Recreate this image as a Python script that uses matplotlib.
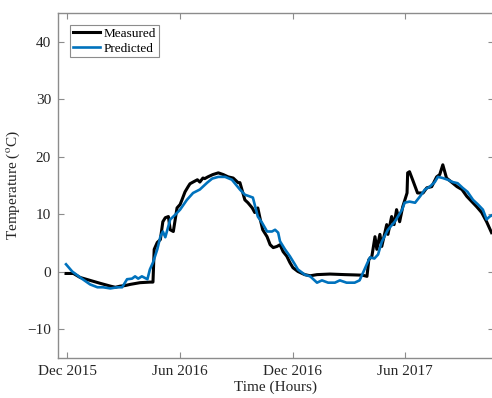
import numpy as np
import matplotlib.pyplot as plt

plt.rcParams['font.family'] = ['Liberation Serif', 'DejaVu Serif']
plt.rcParams['mathtext.fontset'] = 'stix'

# time axis: days counted from 1 Dec 2015
start = np.datetime64('2015-12-01')

meas_days = [-2, 10, 21, 37, 53, 70, 78, 86, 94, 102, 118, 134, 139, 141, 146, 151, 155, 159,
             164, 167, 172, 178, 183, 186, 191, 196, 199, 204, 211, 215, 220, 223, 228, 236,
             245, 253, 261, 269, 277, 280, 288, 293, 300, 304, 309, 313, 317, 324, 329, 334,
             340, 345, 350, 356, 361, 366, 374, 385, 394, 405, 426, 450, 466, 479, 486, 489,
             494, 499, 502, 507, 510, 518, 520, 526, 530, 534, 539, 544, 551, 552, 555, 560,
             568, 577, 583, 591, 599, 604, 609, 615, 623, 632, 640, 648, 656, 664, 672, 680,
             688]
meas_temp = [-0.3, -0.3, -1.0, -1.5, -2.0, -2.5, -2.7, -2.5, -2.4, -2.2, -1.9, -1.8, -1.8, 3.9,
             5.1, 5.6, 8.7, 9.4, 9.6, 7.3, 7.0, 11.1, 11.7, 12.5, 13.9, 14.8, 15.3, 15.6, 16.0,
             15.6, 16.3, 16.2, 16.5, 16.9, 17.2, 16.9, 16.5, 16.3, 15.5, 15.5, 12.5, 12.0, 11.1,
             10.3, 11.1, 9.1, 7.3, 6.1, 4.7, 4.2, 4.4, 4.7, 3.5, 2.7, 1.6, 0.7, 0.05, -0.5, -0.7,
             -0.5, -0.4, -0.5, -0.55, -0.6, -0.8, 2.1, 2.7, 6.1, 3.9, 6.5, 4.4, 8.2, 6.5, 9.6,
             8.2, 10.8, 8.7, 11.3, 13.7, 17.2, 17.4, 16.0, 13.7, 13.7, 14.6, 14.8, 16.5, 16.9,
             18.6, 16.3, 15.6, 14.8, 14.3, 13.1, 12.2, 11.3, 10.3, 8.7, 6.8]

pred_days = [-2, 8, 21, 37, 49, 58, 70, 81, 89, 97, 105, 110, 115, 121, 130, 134, 139, 146,
             151, 155, 159, 167, 175, 183, 194, 204, 215, 227, 235, 245, 256, 267, 280, 288,
             296, 301, 309, 316, 324, 332, 337, 342, 345, 353, 361, 369, 374, 385, 394, 405,
             413, 423, 434, 442, 453, 466, 474, 482, 487, 491, 498, 504, 510, 520, 531, 543,
             547, 555, 564, 572, 580, 588, 596, 601, 609, 617, 625, 633, 641, 649, 658, 666,
             674, 680, 685, 690]
pred_temp = [1.3, 0.05, -1.0, -2.2, -2.7, -2.7, -2.9, -2.7, -2.7, -1.3, -1.2, -0.8, -1.2, -0.8,
             -1.3, 0.4, 1.6, 3.9, 6.1, 7.0, 6.0, 9.1, 9.9, 10.8, 12.5, 13.7, 14.3, 15.5, 16.2,
             16.5, 16.5, 16.0, 14.3, 13.4, 13.1, 12.9, 9.6, 8.5, 7.0, 7.0, 7.3, 6.8, 5.3, 3.9,
             2.7, 1.3, 0.4, -0.5, -0.8, -1.9, -1.5, -1.9, -1.9, -1.5, -1.9, -1.9, -1.5, 0.4,
             1.6, 2.5, 2.3, 3.0, 5.2, 7.3, 8.7, 10.8, 12.0, 12.2, 12.0, 13.1, 14.3, 14.8, 15.6,
             16.5, 16.3, 16.0, 15.6, 15.4, 14.6, 13.9, 12.5, 11.7, 10.8, 9.1, 9.6, 9.9]

tick_dates = ['2015-12-01', '2016-06-01', '2016-12-01', '2017-06-01']
tick_labels = ['Dec 2015', 'Jun 2016', 'Dec 2016', 'Jun 2017']

meas_t = start + np.array(meas_days).astype('timedelta64[D]')
pred_t = start + np.array(pred_days).astype('timedelta64[D]')

fig = plt.figure(figsize=(4.92, 3.98), dpi=100)
ax = fig.add_axes([58 / 492, 40 / 398, 436 / 492, 345 / 398])

ax.plot(meas_t, meas_temp, color='black', lw=2.2, label='Measured')
ax.plot(pred_t, pred_temp, color='#0072BD', lw=1.9, label='Predicted')

ax.set_xlim(start - np.timedelta64(15, 'D'), start + np.timedelta64(692, 'D'))
ax.set_ylim(-15, 45)
ax.set_yticks([-10, 0, 10, 20, 30, 40])
ax.set_xticks(np.array(tick_dates, dtype='datetime64[D]'))
ax.set_xticklabels(tick_labels)

for s in ax.spines.values():
    s.set_color('#8c8c8c')
    s.set_linewidth(1.0)
ax.tick_params(direction='in', length=4, width=0.8, color='#8c8c8c',
               labelsize=11, labelcolor='#262626', top=True, right=True, pad=5)

ax.set_xlabel('Time (Hours)', fontsize=11, color='#262626', labelpad=2)
ax.set_ylabel(r'Temperature ($^{\rm o}$C)', fontsize=11, color='#262626', labelpad=4)

leg = ax.legend(loc='upper left', fontsize=9.5, frameon=True, fancybox=False,
                edgecolor='#8c8c8c', framealpha=1, borderpad=0.2, labelspacing=0.2,
                handlelength=2.1, handletextpad=0.25, borderaxespad=0.9)
leg.get_frame().set_linewidth(0.8)

fig.savefig('out.png', dpi=100)
